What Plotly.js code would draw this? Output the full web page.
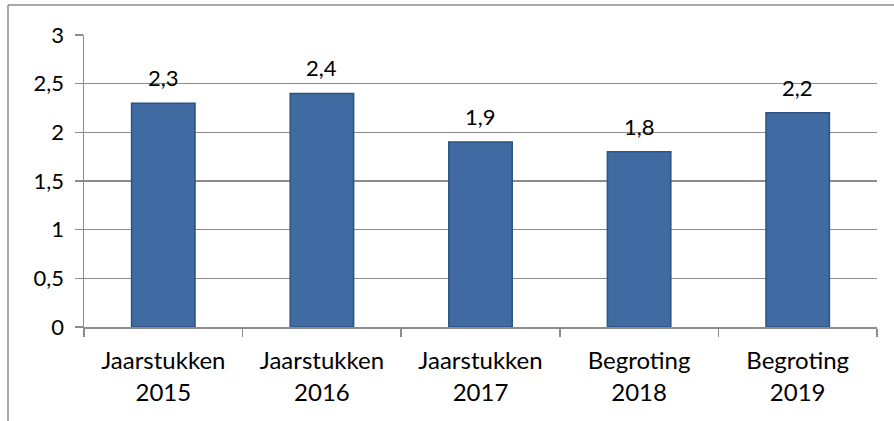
<!DOCTYPE html>
<html><head><meta charset="utf-8">
<script src="https://cdn.plot.ly/plotly-3.0.1.min.js"></script>
<style>html,body{margin:0;padding:0;background:#fff;}#chart{width:894px;height:421px;}</style>
</head><body><div id="chart"></div>
<script>
const categories = ["Jaarstukken<br>2015","Jaarstukken<br>2016","Jaarstukken<br>2017","Begroting<br>2018","Begroting<br>2019"];
const values = [2.3, 2.4, 1.9, 1.8, 2.2];
const valueLabels = ["2,3","2,4","1,9","1,8","2,2"];
const yTickVals = [0,0.5,1,1.5,2,2.5,3];
const yTickText = ["0","0,5","1","1,5","2","2,5","3"];

const font = "Lato, 'Open Sans', sans-serif";
const grid = "#8c8c8c";

const trace = {
  type: "bar", x: categories, y: values, width: 0.4,
  marker: {color: "#3f6aa2", line: {color: "#2c5384", width: 1.5}},
  hoverinfo: "none"
};

const annotations = categories.map((c,i)=>({
  x: c, y: values[i], xref:"x", yref:"y", text: valueLabels[i],
  showarrow:false, yanchor:"bottom", yshift:10,
  font:{family:font, size:22, color:"#000"}
}));

const layout = {
  width:894, height:421,
  margin:{l:84, r:17, t:35, b:94},
  paper_bgcolor:"#fff", plot_bgcolor:"#fff",
  separators:", ",
  showlegend:false,
  bargap:0.6,
  font:{family:font, size:22, color:"#000"},
  xaxis:{
    type:"category", showgrid:false, showline:true, linecolor:grid, linewidth:1.5,
    ticks:"outside", tickson:"boundaries", ticklen:8, tickcolor:grid, tickwidth:1.5,
    tickfont:{family:font, size:24, color:"#000"}, ticklabelstandoff:12, fixedrange:true
  },
  yaxis:{
    range:[0,3], tickvals:yTickVals, ticktext:yTickText,
    showgrid:true, gridcolor:grid, gridwidth:1.5,
    showline:true, linecolor:grid, linewidth:1.5, zeroline:false,
    ticks:"outside", ticklen:8, tickcolor:grid, tickwidth:1.5,
    tickfont:{family:font, size:22, color:"#000"}, ticklabelstandoff:6, fixedrange:true
  },
  annotations: annotations,
  shapes:[
    {type:"line", xref:"paper", yref:"paper", x0:(8-84)/793, x1:(900-84)/793, y0:(327-5)/292, y1:(327-5)/292, line:{color:"#8c8c8c", width:1.5}},
    {type:"line", xref:"paper", yref:"paper", x0:(8-84)/793, x1:(8-84)/793, y0:(327-5)/292, y1:(327-430)/292, line:{color:"#8c8c8c", width:1.5}}
  ]
};
Plotly.newPlot("chart",[trace],layout,{displayModeBar:false, staticPlot:true});
</script></body></html>
